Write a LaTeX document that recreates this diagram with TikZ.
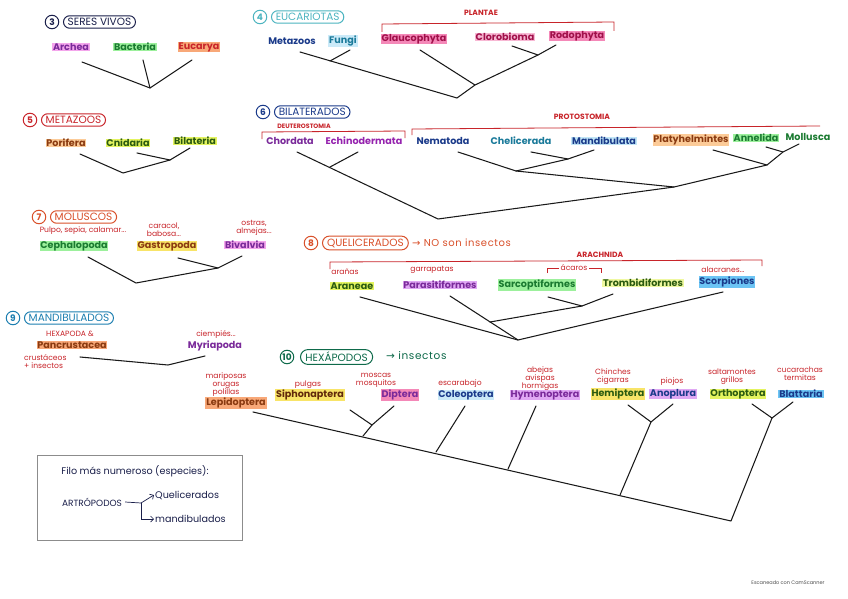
\documentclass[tikz,border=0pt]{standalone}
\usepackage{fontspec}
\setmainfont{Poppins}
\newfontfamily\sym{DejaVu Sans}
\usetikzlibrary{arrows.meta,shapes.misc}
\definecolor{navyT}{HTML}{1A1F4A}
\definecolor{tealH}{HTML}{4CB4C0}
\definecolor{redT}{HTML}{C8242A}
\definecolor{orgT}{HTML}{D9502A}
\definecolor{blueT}{HTML}{1A3A8A}
\definecolor{tealT}{HTML}{1A7A9A}
\definecolor{purpT}{HTML}{7A2A9A}
\definecolor{magT}{HTML}{A0104A}
\definecolor{grnT}{HTML}{1A7A30}
\definecolor{dgrnT}{HTML}{2A5A10}
\definecolor{brnT}{HTML}{8A3A10}
\definecolor{hexT}{HTML}{0E6A4A}
\definecolor{manT}{HTML}{1C7EB0}
\definecolor{pinkH}{HTML}{F4A6EC}
\definecolor{greenH}{HTML}{9CF09C}
\definecolor{orangeH}{HTML}{F8A878}
\definecolor{magH}{HTML}{F488B8}
\definecolor{yelgH}{HTML}{E4F460}
\definecolor{yelH}{HTML}{F8E468}
\definecolor{lblueH}{HTML}{A8DCF4}
\definecolor{blueH}{HTML}{6CC4F4}
\definecolor{lilacH}{HTML}{E0A8F4}
\definecolor{apricH}{HTML}{FCCB98}
\tikzset{
  lbl/.style={inner xsep=0.8pt, inner ysep=0.4pt, font=\fontsize{9.6}{10}\selectfont\bfseries},
  cmn/.style={inner sep=0pt, text=redT, align=center, font=\fontsize{7.6}{8}\selectfont},
  grp/.style={inner sep=0pt, text=redT, font=\fontsize{7.6}{8}\selectfont\bfseries},
  br/.style={draw=black!90, line width=1.05pt, line cap=round, line join=round},
  brk/.style={draw=redT, line width=0.8pt},
  hdr/.style={rounded rectangle, anchor=west, draw, line width=1pt, inner xsep=3pt, inner ysep=2.5pt, font=\fontsize{10.5}{10}\selectfont},
  num/.style={circle, draw, line width=1pt, inner sep=0.6pt, minimum size=13.5pt, font=\fontsize{9}{8}\selectfont\bfseries},
  lgd/.style={inner sep=0pt, text=navyT, font=\fontsize{9.6}{10}\selectfont},
  x=1pt, y=-1pt
}
\begin{document}
\begin{tikzpicture}
\useasboundingbox (0,0) rectangle (848,599);
\fill[white] (0,0) rectangle (848,599);
% ---------- 3 SERES VIVOS
\node[num, draw=navyT, text=navyT] (n3) at (52,22) {3};
\node[hdr, draw=navyT, text=navyT] (h3) at (63,22) {SERES VIVOS};
\node[lbl, fill=pinkH, text=purpT] (archea) at (71,47) {Archea};
\node[lbl, fill=greenH, text=grnT] (bacteria) at (135,47) {Bacteria};
\node[lbl, fill=orangeH, text=redT] (eucarya) at (199,47) {Eucarya};
\coordinate (t3a) at (82,62); \coordinate (t3b) at (143,60); \coordinate (t3c) at (192,60);
\coordinate (r3) at (150,88);
\draw[br] (t3a) -- (r3) -- (t3c); \draw[br] (t3b) -- (r3);
% ---------- 4 EUCARIOTAS
\node[num, draw=tealH, text=tealH] (n4) at (260,17) {4};
\node[hdr, draw=tealH, text=tealH] (h4) at (271,17) {EUCARIOTAS};
\node[grp] (plantae) at (481,13) {PLANTAE};
\coordinate (pb1) at (382,32); \coordinate (pb2) at (382,24); \coordinate (pb3) at (614,22); \coordinate (pb4) at (614,31);
\draw[brk] (pb1) -- (pb2) -- (pb3) -- (pb4);
\node[lbl, text=blueT] (metazoos) at (292,41) {Metazoos};
\node[lbl, fill=lblueH!60, text=tealT] (fungi) at (343,41) {Fungi};
\node[lbl, fill=magH, text=magT] (glauco) at (414,39) {Glaucophyta};
\node[lbl, fill=magH!60, text=magT] (cloro) at (505,37) {Clorobioma};
\node[lbl, fill=magH, text=magT] (rodo) at (577,36) {Rodophyta};
\coordinate (t4a) at (300,52); \coordinate (t4b) at (350,50); \coordinate (j4a) at (330,61);
\coordinate (t4c) at (420,50); \coordinate (t4d) at (512,46); \coordinate (t4e) at (556,45);
\coordinate (j4d) at (538,55); \coordinate (j4c) at (475,85); \coordinate (r4) at (457,98);
\draw[br] (t4a) -- (r4) -- (j4c) -- (j4d) -- (t4e);
\draw[br] (t4b) -- (j4a); \draw[br] (t4c) -- (j4c); \draw[br] (t4d) -- (j4d);
% ---------- 5 METAZOOS
\node[num, draw=redT, text=redT] (n5) at (30,120) {5};
\node[hdr, draw=redT, text=redT] (h5) at (41,120) {METAZOOS};
\node[lbl, fill=apricH, text=brnT] (porifera) at (66,143) {Porifera};
\node[lbl, fill=yelgH, text=dgrnT] (cnidaria) at (128,143) {Cnidaria};
\node[lbl, fill=yelgH, text=dgrnT] (bilateria) at (195,141) {Bilateria};
\coordinate (t5a) at (80,154); \coordinate (t5b) at (137,153); \coordinate (t5c) at (190,148);
\coordinate (j5) at (170,160); \coordinate (r5) at (123,173);
\draw[br] (t5a) -- (r5) -- (j5) -- (t5c); \draw[br] (t5b) -- (j5);
% ---------- 6 BILATERADOS
\node[num, draw=blueT, text=blueT] (n6) at (263,112) {6};
\node[hdr, draw=blueT, text=blueT] (h6) at (274,112) {BILATERADOS};
\node[grp, font=\fontsize{6.3}{6}\selectfont\bfseries] (deut) at (304,126) {DEUTEROSTOMIA};
\coordinate (db1) at (262,139); \coordinate (db2) at (262,132); \coordinate (db3) at (405,131); \coordinate (db4) at (405,138);
\draw[brk] (db1) -- (db2) -- (db3) -- (db4);
\node[grp] (proto) at (582,117) {PROTOSTOMIA};
\coordinate (qb1) at (412,135); \coordinate (qb2) at (412,129); \coordinate (qb3) at (820,126);
\draw[brk] (qb1) -- (qb2) -- (qb3);
\node[lbl, text=purpT] (chordata) at (290,141) {Chordata};
\node[lbl, text=purpT!80!magenta] (echino) at (364,141) {Echinodermata};
\node[lbl, text=blueT] (nematoda) at (443,141) {Nematoda};
\node[lbl, text=tealT] (chel) at (521,141) {Chelicerada};
\node[lbl, fill=lblueH!70, text=blueT] (mand) at (604,141) {Mandibulata};
\node[lbl, fill=apricH, text=brnT] (platy) at (691,140) {Platyhelmintes};
\node[lbl, fill=greenH, text=grnT] (annelida) at (756,138) {Annelida};
\node[lbl, text=grnT] (mollusca) at (808,137) {Mollusca};
\coordinate (t6a) at (297,152); \coordinate (t6b) at (358,152); \coordinate (j6a) at (330,167);
\coordinate (r6) at (438,219);
\coordinate (t6c) at (458,152); \coordinate (j6c) at (516,171); \coordinate (t6d) at (531,152);
\coordinate (t6e) at (594,150); \coordinate (j6d) at (568,159); \coordinate (j6p) at (674,187);
\coordinate (t6f) at (713,150); \coordinate (j6f) at (767,165); \coordinate (t6g) at (766,147);
\coordinate (t6h) at (799,144); \coordinate (j6g) at (783,152);
\draw[br] (t6a) -- (r6) -- (j6p) -- (j6f) -- (t6f);
\draw[br] (t6b) -- (j6a);
\draw[br] (t6c) -- (j6c) -- (j6p);
\draw[br] (t6d) -- (j6d) -- (t6e); \draw[br] (j6d) -- (j6c);
\draw[br] (t6g) -- (j6g) -- (t6h); \draw[br] (j6g) -- (j6f);
% ---------- 7 MOLUSCOS
\node[num, draw=orgT, text=orgT] (n7) at (39,217) {7};
\node[hdr, draw=orgT, text=orgT] (h7) at (50,217) {MOLUSCOS};
\node[cmn] (pulpo) at (83,231) {Pulpo, sepia, calamar...};
\node[cmn] (caracol) at (164,230) {caracol,\\babosa...};
\node[cmn] (ostras) at (254,228) {ostras,\\almejas...};
\node[lbl, fill=greenH, text=grnT] (cephalo) at (74,246) {Cephalopoda};
\node[lbl, fill=yelH, text=brnT] (gastro) at (167,246) {Gastropoda};
\node[lbl, fill=pinkH, text=purpT] (bivalvia) at (245,245) {Bivalvia};
\coordinate (t7a) at (88,257); \coordinate (t7b) at (178,258); \coordinate (t7c) at (242,256);
\coordinate (j7) at (218,268); \coordinate (r7) at (136,283);
\draw[br] (t7a) -- (r7) -- (j7) -- (t7c); \draw[br] (t7b) -- (j7);
% ---------- 8 QUELICERADOS
\node[num, draw=orgT, text=orgT] (n8) at (311,243) {8};
\node[hdr, draw=orgT, text=orgT] (h8) at (322,243) {QUELICERADOS};
\node[inner sep=0pt, anchor=west, text=orgT, font=\fontsize{10}{10}\selectfont\addfontfeature{LetterSpace=6}] (noins) at (412,243) {{\sym →} NO son insectos};
\node[grp] (arach) at (600,255) {ARACHNIDA};
\coordinate (ab1) at (330,269); \coordinate (ab2) at (330,262); \coordinate (ab3) at (762,260); \coordinate (ab4) at (762,266);
\draw[brk] (ab1) -- (ab2) -- (ab3) -- (ab4);
\node[cmn] (aranas) at (345,272) {arañas};
\node[cmn] (garra) at (432,270) {garrapatas};
\node[cmn] (acaros) at (574,268) {ácaros};
\coordinate (ak1) at (547,273); \coordinate (ak2) at (547,268); \coordinate (ak3) at (601,268); \coordinate (ak4) at (601,273);
\draw[brk, line width=0.6pt] (ak1) -- (ak2) -- ([xshift=-2pt]acaros.west); \draw[brk, line width=0.6pt] ([xshift=2pt]acaros.east) -- (ak3) -- (ak4);
\node[cmn] (alacr) at (723,270) {alacranes...};
\node[lbl, fill=yelgH, text=dgrnT] (araneae) at (352,286) {Araneae};
\node[lbl, fill=lilacH, text=purpT] (parasit) at (440,285) {Parasitiformes};
\node[lbl, fill=greenH, text=grnT] (sarco) at (537,285) {Sarcoptiformes};
\node[lbl, fill=yelgH!60, text=dgrnT] (trombi) at (643,283) {Trombidiformes};
\node[lbl, fill=blueH, text=blueT] (scorp) at (727,282) {Scorpiones};
\coordinate (t8a) at (360,297); \coordinate (r8) at (518,340); \coordinate (t8b) at (450,296);
\coordinate (j8b) at (490,322); \coordinate (t8c) at (548,297); \coordinate (j8c) at (582,306);
\coordinate (t8d) at (613,294); \coordinate (t8e) at (723,292);
\draw[br] (t8a) -- (r8) -- (t8e); \draw[br] (t8b) -- (r8);
\draw[br] (t8c) -- (j8c) -- (t8d); \draw[br] (j8c) -- (j8b);
% ---------- 9 MANDIBULADOS
\node[num, draw=manT, text=manT] (n9) at (13,318) {9};
\node[hdr, draw=manT, text=manT] (h9) at (24,318) {MANDIBULADOS};
\node[cmn] (hexa) at (70,334) {HEXAPODA \&};
\node[lbl, fill=orangeH, text=brnT] (pancru) at (72,345) {Pancrustacea};
\node[cmn, align=left, anchor=west] (crust) at (24,362) {crustáceos\\+ insectos};
\node[cmn] (ciemp) at (216,335) {ciempiés...};
\node[lbl, text=purpT] (myria) at (215,346) {Myriapoda};
\coordinate (t9a) at (80,357); \coordinate (r9) at (168,365); \coordinate (t9b) at (205,356);
\draw[br] (t9a) -- (r9) -- (t9b);
% ---------- 10 HEXAPODOS
\node[num, draw=hexT, text=hexT] (n10) at (287,357) {10};
\node[hdr, draw=hexT, text=hexT] (h10) at (300,357) {HEXÁPODOS};
\node[inner sep=0pt, anchor=west, text=hexT, font=\fontsize{10.5}{10}\selectfont\addfontfeature{LetterSpace=6}] (ins) at (386,356) {{\sym →} insectos};
\node[cmn] (c1) at (226,385) {mariposas\\orugas\\polillas};
\node[cmn] (c2) at (308,385) {pulgas};
\node[cmn] (c3) at (376,380) {moscas\\mosquitos};
\node[cmn] (c4) at (460,384) {escarabajo};
\node[cmn] (c5) at (540,379) {abejas\\avispas\\hormigas};
\node[cmn] (c6) at (613,377) {Chinches\\cigarras};
\node[cmn] (c7) at (672,382) {piojos};
\node[cmn] (c8) at (732,377) {saltamontes\\grillos};
\node[cmn] (c9) at (800,374) {cucarachas\\termitas};
\node[lbl, fill=orangeH, text=brnT] (lepi) at (236,403) {Lepidoptera};
\node[lbl, fill=yelH, text=brnT!70!black] (sipho) at (310,395) {Siphonaptera};
\node[lbl, fill=magH, text=purpT] (dipt) at (400,395) {Diptera};
\node[lbl, fill=lblueH!60, text=blueT] (coleo) at (466,395) {Coleoptera};
\node[lbl, fill=lilacH, text=purpT] (hymen) at (545,395) {Hymenoptera};
\node[lbl, fill=yelH, text=dgrnT] (hemi) at (618,394) {Hemiptera};
\node[lbl, fill=lilacH, text=blueT] (anop) at (673,394) {Anoplura};
\node[lbl, fill=yelgH, text=dgrnT] (ortho) at (738,394) {Orthoptera};
\node[lbl, fill=blueH, text=blueT] (blatt) at (801,394) {Blattaria};
\coordinate (t10a) at (253,412); \coordinate (r10) at (731,521);
\coordinate (t10b) at (350,410); \coordinate (t10c) at (394,406); \coordinate (j10b) at (372,425); \coordinate (k10b) at (363,436);
\coordinate (t10d) at (465,406); \coordinate (k10d) at (436,452);
\coordinate (t10e) at (536,406); \coordinate (k10e) at (508,469);
\coordinate (t10f) at (628,405); \coordinate (t10g) at (673,404); \coordinate (j10f) at (651,422); \coordinate (k10f) at (620,495);
\coordinate (t10h) at (752,404); \coordinate (t10i) at (793,402); \coordinate (j10h) at (772,418);
\draw[br] (t10a) -- (r10) -- (j10h) -- (t10i); \draw[br] (t10h) -- (j10h);
\draw[br] (t10b) -- (j10b) -- (t10c); \draw[br] (j10b) -- (k10b);
\draw[br] (t10d) -- (k10d);
\draw[br] (t10e) -- (k10e);
\draw[br] (t10f) -- (j10f) -- (t10g); \draw[br] (j10f) -- (k10f);
% ---------- legend box
\draw[draw=black!45, line width=0.7pt] (37,455) rectangle (242,540);
\node[lgd] (filo) at (135,471) {Filo más numeroso (especies):};
\node[lgd, font=\fontsize{9}{10}\selectfont] (artro) at (92,502) {ARTRÓPODOS};
\node[lgd, anchor=west] (queli) at (155,495) {Quelicerados};
\node[lgd, anchor=west] (mandi) at (155,519) {mandibulados};
\coordinate (ab) at (141,503); \coordinate (ac) at (141,519);
\draw[navyT, line width=0.7pt] ([xshift=3pt]artro.east) -- (ab);
\draw[navyT, line width=0.7pt, -{Straight Barb[length=3pt]}] (ab) -- ([xshift=-1pt]queli.west);
\draw[navyT, line width=0.7pt, -{Straight Barb[length=3pt]}] (ab) -- (ac) -- ([xshift=-1pt]mandi.west);
% ---------- footer
\node[inner sep=0pt, text=black!70, font=\fontsize{5}{5}\selectfont] (scan) at (788,583) {Escaneado con CamScanner};
\end{tikzpicture}
\end{document}
